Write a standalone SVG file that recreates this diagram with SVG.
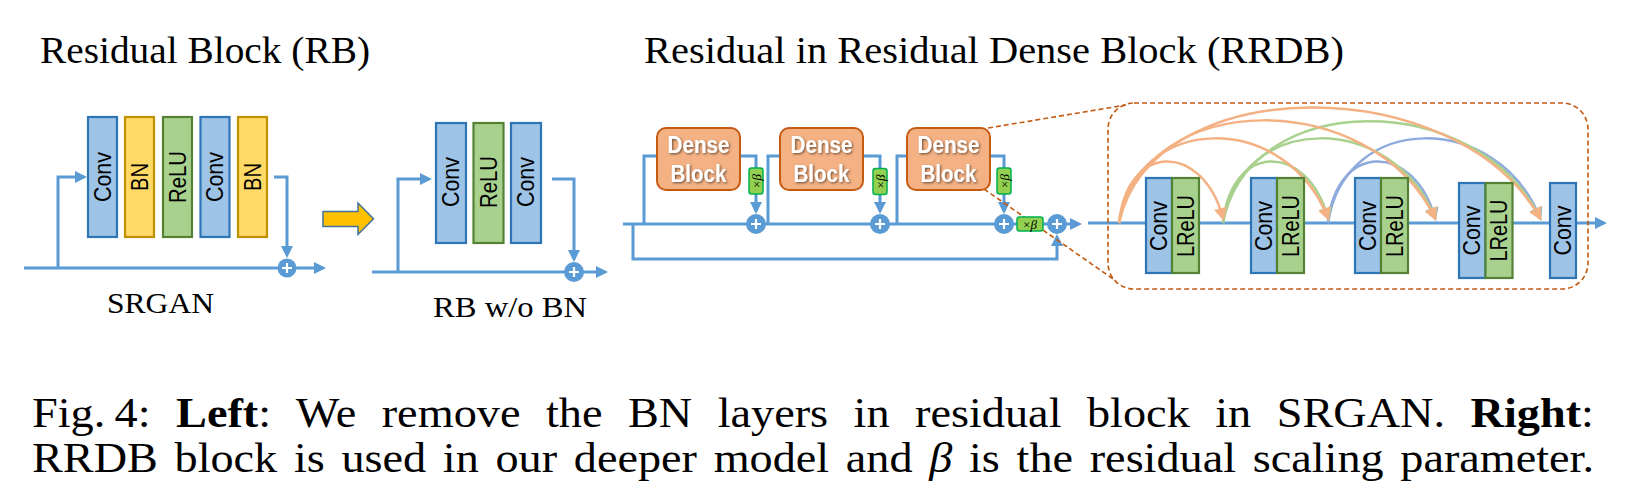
<svg xmlns="http://www.w3.org/2000/svg" width="1634" height="494" viewBox="0 0 1634 494">
<defs>
<style>
.conv{fill:#9DC3E6;stroke:#2E75B6;stroke-width:2.2}
.bn{fill:#FFD966;stroke:#BF9000;stroke-width:2.2}
.relu{fill:#A9D18E;stroke:#548235;stroke-width:2.2}
.lbl{font-family:"Liberation Sans",Arial,sans-serif;font-size:23px;text-anchor:middle;fill:#000}
.wire{fill:none;stroke:#5B9BD5;stroke-width:3}
.sum{fill:#5B9BD5}
.plus{stroke:#fff;stroke-width:2.2}
.db{fill:#F4B183;stroke:#C55A11;stroke-width:2}
.dbt{font-family:"Liberation Sans",Arial,sans-serif;font-weight:bold;font-size:23px;fill:#fff;text-anchor:middle}
.beta{fill:#92D050;stroke:#00B050;stroke-width:1.5}
.bt{font-family:"Liberation Serif","Times New Roman",serif;font-size:13px;text-anchor:middle;fill:#000}
.serif{font-family:"Liberation Serif","Times New Roman",serif;fill:#000}
.arc{fill:none;stroke-width:2.5}
.dash{fill:none;stroke:#C55A11;stroke-width:1.6;stroke-dasharray:5 3}
</style>
<marker id="ab" markerUnits="userSpaceOnUse" markerWidth="14" markerHeight="14" refX="9" refY="6" orient="auto" overflow="visible"><path d="M0,0 L12,6 L0,12 z" fill="#5B9BD5"/></marker>
<marker id="ao" markerUnits="userSpaceOnUse" markerWidth="14" markerHeight="14" refX="10" refY="6.5" orient="auto" overflow="visible"><path d="M0,0 L13,6.5 L0,13 z" fill="#F4B183"/></marker>
<marker id="ag" markerUnits="userSpaceOnUse" markerWidth="14" markerHeight="14" refX="10" refY="6.5" orient="auto" overflow="visible"><path d="M0,0 L13,6.5 L0,13 z" fill="#A9D18E"/></marker>
<marker id="al" markerUnits="userSpaceOnUse" markerWidth="14" markerHeight="14" refX="10" refY="6.5" orient="auto" overflow="visible"><path d="M0,0 L13,6.5 L0,13 z" fill="#8FAADC"/></marker>
<filter id="sh" x="-20%" y="-30%" width="140%" height="160%"><feDropShadow dx="1.2" dy="1.2" stdDeviation="0.8" flood-color="#000" flood-opacity="0.55"/></filter>
</defs>
<rect width="1634" height="494" fill="#fff"/>

<!-- titles -->
<text class="serif" x="40" y="63" font-size="38" textLength="330" lengthAdjust="spacingAndGlyphs">Residual Block (RB)</text>
<text class="serif" x="644" y="63" font-size="38" textLength="700" lengthAdjust="spacingAndGlyphs">Residual in Residual Dense Block (RRDB)</text>
<text class="serif" x="107" y="313" font-size="30" textLength="107" lengthAdjust="spacingAndGlyphs">SRGAN</text>
<text class="serif" x="433" y="317" font-size="30" textLength="154" lengthAdjust="spacingAndGlyphs">RB w/o BN</text>

<!-- connectors -->
<g id="connectors">
  <path class="wire" d="M24,268 H323" marker-end="url(#ab)"/>
  <path class="wire" d="M58,268 V177 H84" marker-end="url(#ab)"/>
  <path class="wire" d="M274,177 H287 V255" marker-end="url(#ab)"/>
  <path class="wire" d="M372,272 H605" marker-end="url(#ab)"/>
  <path class="wire" d="M398,272 V179 H429" marker-end="url(#ab)"/>
  <path class="wire" d="M552,179 H574 V259" marker-end="url(#ab)"/>
  <path class="wire" d="M623,224 H1079" marker-end="url(#ab)"/>
  <path class="wire" d="M633,224 V259 H1057 V237" marker-end="url(#ab)"/>
  <path class="wire" d="M644,224 V156 H660"/>
  <path class="wire" d="M737,156 H756 V211" marker-end="url(#ab)"/>
  <path class="wire" d="M768,224 V156 H783"/>
  <path class="wire" d="M860,156 H880 V211" marker-end="url(#ab)"/>
  <path class="wire" d="M897,224 V156 H910"/>
  <path class="wire" d="M987,156 H1004 V211" marker-end="url(#ab)"/>
  <path class="wire" d="M1088,223 H1604" marker-end="url(#ab)"/>
  <path class="dash" d="M988,128 L1126,105"/>
  <path class="dash" d="M984,189 L1116,281"/>
  <rect class="dash" x="1108" y="103" width="480" height="186" rx="26"/>
  <!-- dense arcs -->
  <path class="arc" stroke="#8FAADC" d="M1328,223 C1336.6,141.7 1413.6,141.7 1435,218" marker-end="url(#al)"/>
  <path class="arc" stroke="#8FAADC" d="M1328,223 C1345,111 1497.6,111 1540,218" marker-end="url(#al)"/>
  <path class="arc" stroke="#A9D18E" d="M1223,223 C1231.4,141.7 1307,141.7 1328,218" marker-end="url(#ag)"/>
  <path class="arc" stroke="#A9D18E" d="M1223,223 C1240,111 1392.6,111 1435,218" marker-end="url(#ag)"/>
  <path class="arc" stroke="#A9D18E" d="M1223,223 C1248.4,88.3 1476.6,88.3 1540,218" marker-end="url(#ag)"/>
  <path class="arc" stroke="#F4B183" d="M1119,223 C1127.3,141.7 1202.2,141.7 1223,218" marker-end="url(#ao)"/>
  <path class="arc" stroke="#F4B183" d="M1119,223 C1135.7,111 1286.2,111 1328,218" marker-end="url(#ao)"/>
  <path class="arc" stroke="#F4B183" d="M1119,223 C1144.3,87 1371.8,87 1435,218" marker-end="url(#ao)"/>
  <path class="arc" stroke="#F4B183" d="M1119,223 C1152.7,69.7 1455.8,69.7 1540,218" marker-end="url(#ao)"/>
</g>

<!-- SRGAN residual block -->
<g id="srgan-conv1"><rect class="conv" x="88" y="117" width="29" height="120"/><text class="lbl" transform="translate(102.5,177) rotate(-90)" y="8.2" textLength="50" lengthAdjust="spacingAndGlyphs">Conv</text></g>
<g id="srgan-bn1"><rect class="bn" x="125" y="117" width="29" height="120"/><text class="lbl" transform="translate(139.5,177) rotate(-90)" y="8.2" textLength="28" lengthAdjust="spacingAndGlyphs">BN</text></g>
<g id="srgan-relu"><rect class="relu" x="163" y="117" width="29" height="120"/><text class="lbl" transform="translate(177.5,177) rotate(-90)" y="8.2" textLength="52" lengthAdjust="spacingAndGlyphs">ReLU</text></g>
<g id="srgan-conv2"><rect class="conv" x="200.5" y="117" width="29" height="120"/><text class="lbl" transform="translate(215,177) rotate(-90)" y="8.2" textLength="50" lengthAdjust="spacingAndGlyphs">Conv</text></g>
<g id="srgan-bn2"><rect class="bn" x="238" y="117" width="29" height="120"/><text class="lbl" transform="translate(252.5,177) rotate(-90)" y="8.2" textLength="28" lengthAdjust="spacingAndGlyphs">BN</text></g>
<g id="srgan-sum"><circle class="sum" cx="287" cy="268" r="9.5"/><path class="plus" d="M282,268 H292 M287,263 V273"/></g>

<!-- transition arrow -->
<g id="transition-arrow"><polygon points="323,211.5 358,211.5 358,203 373.5,218.7 358,234.5 358,226.5 323,226.5" fill="#FFC000" stroke="#41719C" stroke-width="1.5"/></g>

<!-- RB without BN -->
<g id="rb-conv1"><rect class="conv" x="436" y="123" width="30" height="120"/><text class="lbl" transform="translate(451,182) rotate(-90)" y="8.2" textLength="50" lengthAdjust="spacingAndGlyphs">Conv</text></g>
<g id="rb-relu"><rect class="relu" x="473.5" y="123" width="30" height="120"/><text class="lbl" transform="translate(488.5,182) rotate(-90)" y="8.2" textLength="52" lengthAdjust="spacingAndGlyphs">ReLU</text></g>
<g id="rb-conv2"><rect class="conv" x="511" y="123" width="30" height="120"/><text class="lbl" transform="translate(526,182) rotate(-90)" y="8.2" textLength="50" lengthAdjust="spacingAndGlyphs">Conv</text></g>
<g id="rb-sum"><circle class="sum" cx="574" cy="272" r="10"/><path class="plus" d="M569,272 H579 M574,267 V277"/></g>

<!-- RRDB -->
<g id="dense1"><rect class="db" x="657" y="128" width="83" height="62" rx="9"/><g filter="url(#sh)"><text class="dbt" x="698.5" y="153" textLength="62" lengthAdjust="spacingAndGlyphs">Dense</text><text class="dbt" x="698.5" y="182" textLength="56" lengthAdjust="spacingAndGlyphs">Block</text></g></g>
<g id="dense2"><rect class="db" x="780" y="128" width="83" height="62" rx="9"/><g filter="url(#sh)"><text class="dbt" x="821.5" y="153" textLength="62" lengthAdjust="spacingAndGlyphs">Dense</text><text class="dbt" x="821.5" y="182" textLength="56" lengthAdjust="spacingAndGlyphs">Block</text></g></g>
<g id="dense3"><rect class="db" x="907" y="128" width="83" height="62" rx="9"/><g filter="url(#sh)"><text class="dbt" x="948.5" y="153" textLength="62" lengthAdjust="spacingAndGlyphs">Dense</text><text class="dbt" x="948.5" y="182" textLength="56" lengthAdjust="spacingAndGlyphs">Block</text></g></g>

<g id="beta1"><rect class="beta" x="749" y="168" width="14" height="26" rx="2.5"/><text class="bt" transform="translate(756,181) rotate(-90)" y="4.5">×<tspan font-style="italic">β</tspan></text></g>
<g id="beta2"><rect class="beta" x="873" y="168.5" width="14" height="26" rx="2.5"/><text class="bt" transform="translate(880,181.5) rotate(-90)" y="4.5">×<tspan font-style="italic">β</tspan></text></g>
<g id="beta3"><rect class="beta" x="997" y="168" width="14" height="26" rx="2.5"/><text class="bt" transform="translate(1004,181) rotate(-90)" y="4.5">×<tspan font-style="italic">β</tspan></text></g>

<g id="sum1"><circle class="sum" cx="756" cy="224" r="10"/><path class="plus" d="M751,224 H761 M756,219 V229"/></g>
<g id="sum2"><circle class="sum" cx="880" cy="224" r="10"/><path class="plus" d="M875,224 H885 M880,219 V229"/></g>
<g id="sum3"><circle class="sum" cx="1004" cy="224" r="10"/><path class="plus" d="M999,224 H1009 M1004,219 V229"/></g>
<g id="beta4"><rect class="beta" x="1017" y="217" width="26" height="14" rx="2.5"/><text class="bt" x="1030" y="228.5">×<tspan font-style="italic">β</tspan></text></g>
<g id="sum4"><circle class="sum" cx="1057" cy="224" r="10"/><path class="plus" d="M1052,224 H1062 M1057,219 V229"/></g>

<!-- dense block internals -->
<g id="d-conv1"><rect class="conv" x="1146" y="178" width="26" height="95"/><text class="lbl" transform="translate(1159,226) rotate(-90)" y="8.2" textLength="50" lengthAdjust="spacingAndGlyphs">Conv</text></g>
<g id="d-lrelu1"><rect class="relu" x="1172" y="178" width="27" height="95"/><text class="lbl" transform="translate(1185.5,226) rotate(-90)" y="8.2" textLength="62" lengthAdjust="spacingAndGlyphs">LReLU</text></g>
<g id="d-conv2"><rect class="conv" x="1251" y="178" width="26" height="95"/><text class="lbl" transform="translate(1264,226) rotate(-90)" y="8.2" textLength="50" lengthAdjust="spacingAndGlyphs">Conv</text></g>
<g id="d-lrelu2"><rect class="relu" x="1277" y="178" width="27" height="95"/><text class="lbl" transform="translate(1290.5,226) rotate(-90)" y="8.2" textLength="62" lengthAdjust="spacingAndGlyphs">LReLU</text></g>
<g id="d-conv3"><rect class="conv" x="1355" y="178" width="26" height="95"/><text class="lbl" transform="translate(1368,226) rotate(-90)" y="8.2" textLength="50" lengthAdjust="spacingAndGlyphs">Conv</text></g>
<g id="d-lrelu3"><rect class="relu" x="1381" y="178" width="27" height="95"/><text class="lbl" transform="translate(1394.5,226) rotate(-90)" y="8.2" textLength="62" lengthAdjust="spacingAndGlyphs">LReLU</text></g>
<g id="d-conv4"><rect class="conv" x="1459" y="183" width="26.5" height="95"/><text class="lbl" transform="translate(1472.2,230.5) rotate(-90)" y="8.2" textLength="50" lengthAdjust="spacingAndGlyphs">Conv</text></g>
<g id="d-lrelu4"><rect class="relu" x="1485.5" y="183" width="27" height="95"/><text class="lbl" transform="translate(1499,230.5) rotate(-90)" y="8.2" textLength="62" lengthAdjust="spacingAndGlyphs">LReLU</text></g>
<g id="d-conv5"><rect class="conv" x="1550" y="183" width="26" height="95"/><text class="lbl" transform="translate(1563,230.5) rotate(-90)" y="8.2" textLength="50" lengthAdjust="spacingAndGlyphs">Conv</text></g>

<!-- caption -->
<text class="serif" x="32" y="427" font-size="42" style="word-spacing:12.6px" textLength="1562" lengthAdjust="spacingAndGlyphs">Fig.&#8201;4: <tspan font-weight="bold">Left</tspan>: We remove the BN layers in residual block in SRGAN. <tspan font-weight="bold">Right</tspan>:</text>
<text class="serif" x="32" y="472" font-size="42" style="word-spacing:4.7px" textLength="1562" lengthAdjust="spacingAndGlyphs">RRDB block is used in our deeper model and <tspan font-style="italic">β</tspan> is the residual scaling parameter.</text>
</svg>
